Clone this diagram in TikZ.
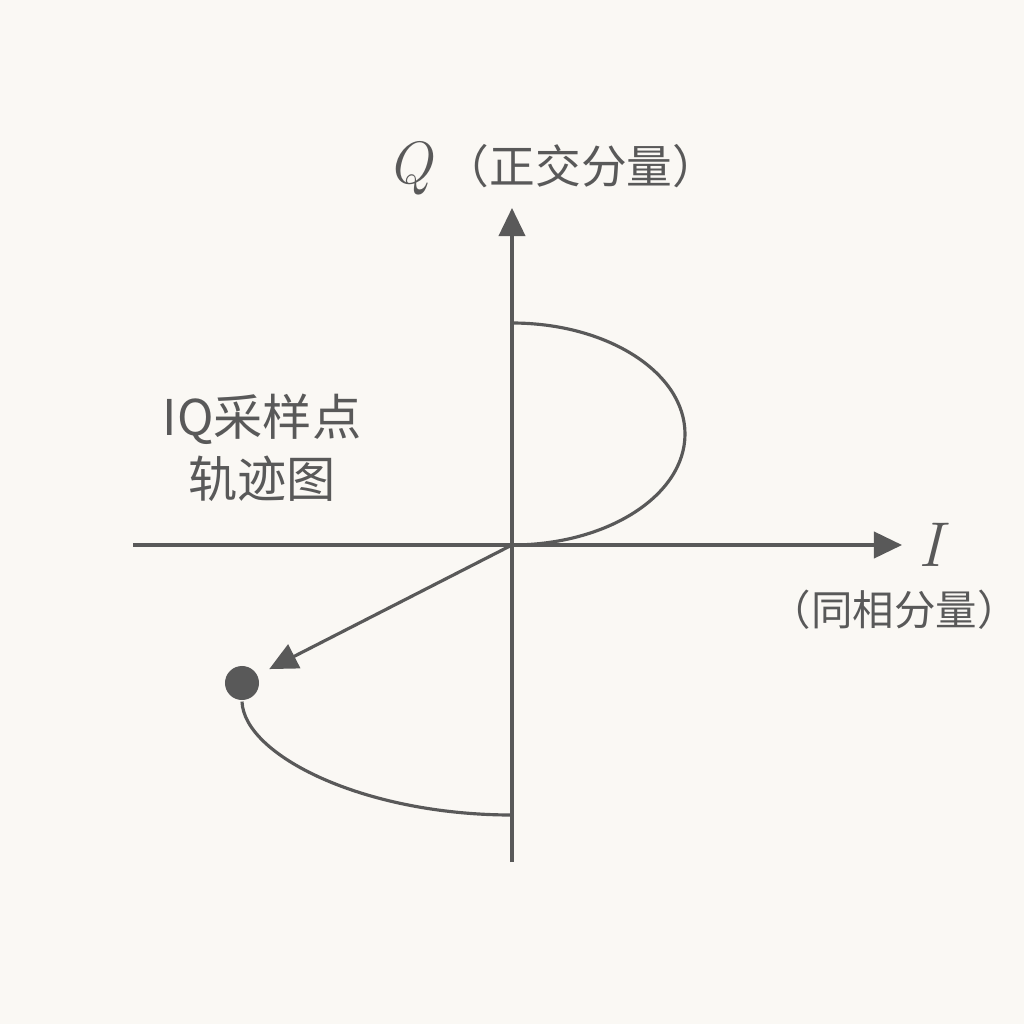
\documentclass[tikz,border=0pt]{standalone}
\usepackage{amsmath}
\usepackage{fontspec}
\usepackage{tikz}
\usetikzlibrary{arrows.meta}
\newfontfamily\cjk{Noto Sans CJK SC}
\definecolor{axisgray}{HTML}{595959}
\definecolor{paper}{HTML}{FAF8F4}

\begin{document}
\begin{tikzpicture}[x=0.01cm,y=-0.01cm,line width=0.9pt,
		axis/.style={draw=axisgray,-{Triangle[length=8pt,width=7.5pt]}},
		path/.style={draw=axisgray},
		lbl/.style={text=axisgray,inner sep=0pt}]
			\fill[paper] (0,0) rectangle (1024,1024);
			\useasboundingbox (0,0) rectangle (1024,1024);
			\coordinate (O) at (512,545);
			\coordinate (Qlo) at (512,862);
			\coordinate (Qhi) at (512,208);
			\coordinate (Ilo) at (133,545);
			\coordinate (Ihi) at (902,545);
			\coordinate (top) at (512,323);
			\coordinate (rgt) at (685,434);
			\coordinate (bot) at (512,815);
			\node[circle,fill=axisgray,minimum size=0.34cm,inner sep=0pt] (dot) at (242,683) {};
			% axes
			\draw[axis] (Qlo) -- (Qhi);
			\draw[axis] (Ilo) -- (Ihi);
			% trajectory
			\draw[path] (top) .. controls (607.5,323) and (685,372.7) .. (rgt)
				.. controls (685,495.3) and (607.5,545) .. (O);
			\draw[path] (dot.south) .. controls (244,755) and (362.9,815) .. (bot);
			\draw[axis,shorten >=0.12cm] (O) -- (dot);
			% labels
			\node[lbl] (qlab) at (553,168) {\fontsize{17pt}{17pt}\selectfont\textit{Q}\,\fontsize{13pt}{15pt}\selectfont\cjk（正交分量）};
			\node[lbl,font=\fontsize{18pt}{18pt}\selectfont\itshape] (ilab) at (930,545) {I};
			\node[lbl,font=\fontsize{11.8pt}{14pt}\selectfont\cjk] (iname) at (894,610) {（同相分量）};
			\node[lbl,align=center,font=\fontsize{14pt}{17.6pt}\selectfont\cjk] (title) at (262,448) {IQ采样点\\轨迹图};
		\end{tikzpicture}
\end{document}
